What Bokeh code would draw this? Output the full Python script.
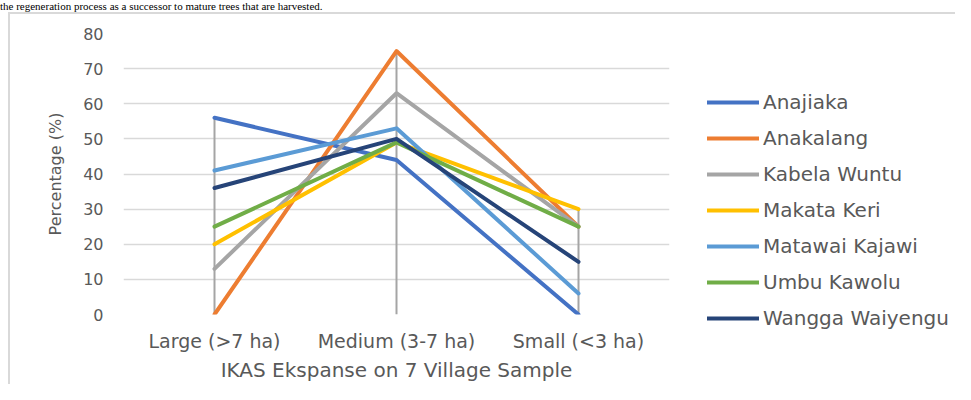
from bokeh.plotting import figure
from bokeh.layouts import column, row
from bokeh.models import Range1d, FactorRange, Legend, LegendItem, FixedTicker, Div
from bokeh.embed import file_html
from bokeh.resources import INLINE

categories = ["Large (>7 ha)", "Medium (3-7 ha)", "Small (<3 ha)"]
series_names = ["Anajiaka", "Anakalang", "Kabela Wuntu", "Makata Keri",
                "Matawai Kajawi", "Umbu Kawolu", "Wangga Waiyengu"]
anajiaka = [56, 44, 0]
anakalang = [0, 75, 25]
kabela_wuntu = [13, 63, 25]
makata_keri = [20, 49, 30]
matawai_kajawi = [41, 53, 6]
umbu_kawolu = [25, 49, 25]
wangga_waiyengu = [36, 50, 15]
series_values = [anajiaka, anakalang, kabela_wuntu, makata_keri,
                 matawai_kajawi, umbu_kawolu, wangga_waiyengu]
colors = ["#4472C4", "#ED7D31", "#A5A5A5", "#FFC000",
          "#5B9BD5", "#70AD47", "#264478"]
y_ticks = [0, 10, 20, 30, 40, 50, 60, 70, 80]
x_title = "IKAS Ekspanse on 7 Village Sample"
y_title = "Percentage (%)"
top_text = "the regeneration process as a successor to mature trees that are harvested."

FONT = "DejaVu Sans"
GREY_TXT = "#595959"

n = len(categories)
H = 370
W_MAIN, W_LEG = 669, 276
FRAME_L, FRAME_R, FRAME_T, FRAME_B = 113, 659, 19, 301

p = figure(width=W_MAIN, height=H, output_backend="svg", toolbar_location=None,
           x_range=FactorRange(*categories, range_padding=0),
           y_range=Range1d(0, 80),
           min_border_left=FRAME_L, min_border_right=W_MAIN - FRAME_R,
           min_border_top=FRAME_T, min_border_bottom=H - FRAME_B)
p.outline_line_color = None
p.background_fill_color = "white"
p.border_fill_color = "white"
p.frame_align = False

# y axis
p.yaxis.ticker = FixedTicker(ticks=y_ticks)
p.yaxis.axis_line_color = None
p.yaxis.major_tick_line_color = None
p.yaxis.major_tick_out = 0
p.yaxis.major_tick_in = 0
p.yaxis.minor_tick_line_color = None
p.yaxis.major_label_text_font = FONT
p.yaxis.major_label_text_font_size = "16px"
p.yaxis.major_label_text_color = GREY_TXT
p.yaxis.major_label_standoff = 20
p.yaxis.axis_label = y_title
p.yaxis.axis_label_text_font = FONT
p.yaxis.axis_label_text_font_size = "16px"
p.yaxis.axis_label_text_font_style = "normal"
p.yaxis.axis_label_text_color = GREY_TXT
p.yaxis.axis_label_standoff = 15

# x axis (categories)
p.xaxis.axis_line_color = None
p.xaxis.major_tick_line_color = None
p.xaxis.major_tick_out = 0
p.xaxis.major_tick_in = 0
p.xaxis.minor_tick_line_color = None
p.xaxis.major_label_text_font = FONT
p.xaxis.major_label_text_font_size = "19px"
p.xaxis.major_label_text_color = GREY_TXT
p.xaxis.major_label_standoff = 15
p.xaxis.axis_label = x_title
p.xaxis.axis_label_text_font = FONT
p.xaxis.axis_label_text_font_size = "20px"
p.xaxis.axis_label_text_font_style = "normal"
p.xaxis.axis_label_text_color = GREY_TXT
p.xaxis.axis_label_standoff = 3

p.xgrid.grid_line_color = None
p.ygrid.grid_line_color = "#D9D9D9"
p.ygrid.grid_line_width = 1.5

# drop lines from each category's highest value down to the axis
tops = [max(v[i] for v in series_values) for i in range(n)]
p.segment(x0=categories, y0=[0] * n, x1=categories, y1=tops,
          line_color="#A5A5A5", line_width=2)

for name, vals, col in zip(series_names, series_values, colors):
    p.line(x=categories, y=vals, line_color=col, line_width=4,
           line_join="round", line_cap="round")

# legend panel: a second figure whose frame holds only the legend
pl = figure(width=W_LEG, height=H, output_backend="svg", toolbar_location=None,
            x_range=Range1d(100, 101), y_range=Range1d(100, 101),
            x_axis_location=None, y_axis_location=None,
            min_border=0)
pl.outline_line_color = None
pl.grid.visible = False
pl.background_fill_color = "white"
pl.border_fill_color = "white"
pl.frame_align = False

items = []
for name, vals, col in zip(series_names, series_values, colors):
    r = pl.line(x=list(range(n)), y=vals, line_color=col, line_width=4,
                line_join="round", line_cap="round")
    items.append(LegendItem(label=name, renderers=[r]))

legend = Legend(items=items, location=(28, 54), orientation="vertical",
                padding=0, margin=0, border_line_color=None,
                background_fill_alpha=0, glyph_width=52, glyph_height=24,
                label_height=24, spacing=12, label_standoff=4,
                label_text_font=FONT, label_text_font_size="20px",
                label_text_color=GREY_TXT, click_policy="none")
pl.add_layout(legend)

chart = row(p, pl, spacing=0, margin=(0, 0, 0, 8),
            styles={"border-left": "2px solid #D9D9D9",
                    "border-top": "2px solid #D9D9D9"})

head = Div(text=top_text, width=955, height=12, margin=(0, 0, 0, 0),
           styles={"font-family": "Liberation Serif", "font-size": "11px",
                   "line-height": "12px", "color": "black",
                   "white-space": "nowrap", "overflow": "visible"})

page = column(head, chart, spacing=0)

open("out.html", "w").write(file_html(page, INLINE))
